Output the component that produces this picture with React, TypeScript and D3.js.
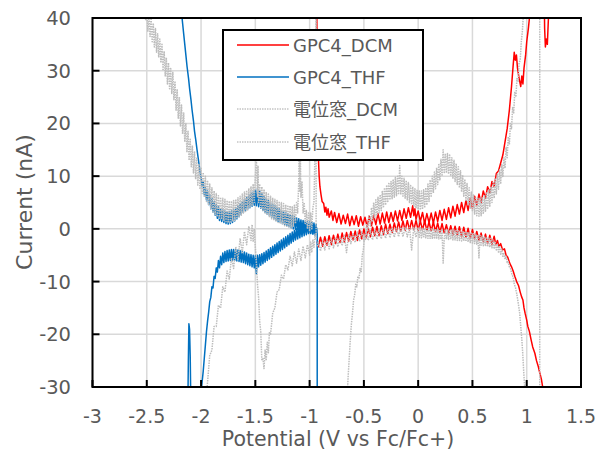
import React from 'react';
import * as d3 from 'd3';

type P = [number, number];

const X_TICKS = [-3, -2.5, -2, -1.5, -1, -0.5, 0, 0.5, 1, 1.5];
const Y_TICKS = [-30, -20, -10, 0, 10, 20, 30, 40];
const SERIES_NAMES = ['GPC4_DCM', 'GPC4_THF', '電位窓_DCM', '電位窓_THF'];
const X_TITLE = 'Potential (V vs Fc/Fc+)';
const Y_TITLE = 'Current (nA)';

// GPC4_DCM (red)
const GPC4_DCM_FWD: P[] = [[-0.935,45],[-0.93,30],[-0.925,20],[-0.92,14],[-0.912,10],[-0.905,8],[-0.895,6.5],[-0.885,5.2],[-0.87,4.8],[-0.86,3.2],[-0.85,4.1],[-0.84,2.6],[-0.83,3.8],[-0.82,2.2],[-0.8,3.4],[-0.785,1.6],[-0.77,3.1],[-0.75,1.2],[-0.73,2.9],[-0.71,0.9],[-0.69,2.6],[-0.67,1.0],[-0.65,2.8],[-0.63,0.6],[-0.61,2.4],[-0.59,0.8],[-0.57,2.5],[-0.55,0.5],[-0.53,2.3],[-0.51,0.7],[-0.49,2.2],[-0.47,0.4],[-0.45,2.4],[-0.43,0.6],[-0.41,2.6],[-0.39,0.8],[-0.37,2.9],[-0.35,0.9],[-0.33,3.0],[-0.31,1.1],[-0.29,3.2],[-0.27,1.2],[-0.25,3.1],[-0.23,1.4],[-0.21,3.4],[-0.19,1.5],[-0.17,3.5],[-0.15,1.6],[-0.13,3.8],[-0.11,2.0],[-0.09,4.0],[-0.07,2.2],[-0.05,4.4],[-0.04,2.5],[-0.03,3.8],[-0.02,1.8],[0.0,3.4],[0.02,1.4],[0.04,3.1],[0.06,1.0],[0.08,2.9],[0.1,1.2],[0.12,3.0],[0.14,1.1],[0.16,3.2],[0.18,1.4],[0.2,3.5],[0.22,1.6],[0.24,3.7],[0.26,1.8],[0.28,4.0],[0.3,2.1],[0.32,4.3],[0.34,2.4],[0.36,4.6],[0.38,2.8],[0.4,5.0],[0.42,3.1],[0.44,5.4],[0.46,3.5],[0.48,5.8],[0.5,3.9],[0.52,6.2],[0.54,4.4],[0.56,6.6],[0.58,5.0],[0.6,7.2],[0.62,5.8],[0.64,8.0],[0.66,6.8],[0.68,9.0],[0.7,8.0],[0.72,10.5],[0.74,11.0],[0.76,12.5],[0.78,14.0],[0.8,16.5],[0.82,19.0],[0.84,22.5],[0.86,27.0],[0.875,31.0],[0.885,33.5],[0.895,32.0],[0.905,33.0],[0.915,30.5],[0.93,28.5],[0.945,27.0],[0.955,29.0],[0.965,27.5],[0.975,30.5],[0.99,33.0],[1.0,35.5],[1.015,38.0],[1.03,41.0],[1.05,46]];
const GPC4_DCM_SPIKE: P[] = [[1.16,46],[1.165,38],[1.172,34.5],[1.18,36],[1.19,35],[1.2,40],[1.21,46]];
const GPC4_DCM_REV: P[] = [[1.2,-45],[1.16,-32],[1.147,-30],[1.135,-28.5],[1.12,-27.3],[1.105,-26],[1.09,-25],[1.075,-23.6],[1.055,-22.4],[1.04,-21],[1.025,-19.5],[1.01,-18.5],[1.0,-17.3],[0.985,-16],[0.975,-15],[0.965,-13.5],[0.953,-12.9],[0.94,-12],[0.925,-10.8],[0.907,-10],[0.89,-9],[0.875,-8],[0.86,-7.2],[0.843,-6.5],[0.825,-5.4],[0.81,-5.0],[0.795,-3.8],[0.778,-4.0],[0.76,-2.8],[0.745,-3.4],[0.73,-2.2],[0.715,-3.0],[0.7,-1.4],[0.68,-3.0],[0.66,-1.2],[0.64,-2.8],[0.62,-1.0],[0.60,-2.5],[0.58,-0.8],[0.56,-2.2],[0.54,-0.5],[0.52,-1.9],[0.50,-0.1],[0.48,-1.8],[0.46,0.1],[0.44,-1.6],[0.42,0.3],[0.40,-1.5],[0.38,0.4],[0.36,-1.3],[0.34,0.5],[0.32,-1.2],[0.30,0.6],[0.28,-1.0],[0.26,0.8],[0.24,-0.8],[0.22,1.0],[0.20,-0.7],[0.18,1.1],[0.16,-0.5],[0.14,1.3],[0.12,-0.4],[0.10,1.3],[0.08,-0.3],[0.06,1.5],[0.04,-0.2],[0.02,1.5],[0.0,-0.3],[-0.02,1.6],[-0.04,-0.2],[-0.06,1.6],[-0.08,-0.2],[-0.10,1.6],[-0.12,-0.3],[-0.14,1.5],[-0.16,-0.4],[-0.18,1.3],[-0.20,-0.5],[-0.22,1.1],[-0.24,-0.7],[-0.26,0.9],[-0.28,-0.9],[-0.30,0.9],[-0.32,-1.1],[-0.34,0.6],[-0.36,-1.3],[-0.38,0.5],[-0.40,-1.3],[-0.42,0.3],[-0.44,-1.5],[-0.46,0.1],[-0.48,-1.7],[-0.50,0.0],[-0.52,-1.9],[-0.54,-0.2],[-0.56,-2.2],[-0.58,-0.4],[-0.60,-2.1],[-0.62,-0.5],[-0.64,-2.3],[-0.66,-0.7],[-0.68,-2.5],[-0.70,-0.8],[-0.72,-2.6],[-0.74,-1.0],[-0.76,-2.8],[-0.78,-1.2],[-0.80,-3.0],[-0.82,-1.3],[-0.84,-3.1],[-0.86,-1.5],[-0.88,-3.3],[-0.90,-1.6],[-0.92,-3.4],[-0.93,-2.4]];

// GPC4_THF (blue)
const GPC4_THF_FWD: P[] = [[-2.185,45],[-2.175,40],[-2.16,37],[-2.15,35],[-2.14,33],[-2.129,30.8],[-2.115,28.5],[-2.105,26.5],[-2.093,24.5],[-2.083,22.6],[-2.07,20.5],[-2.06,18.5],[-2.048,16.8],[-2.037,15],[-2.027,13.5],[-2.018,12.2],[-2.009,10.6],[-2.0,9.8],[-1.99,8.0],[-1.98,9.0],[-1.97,6.5],[-1.96,7.8],[-1.95,5.5],[-1.94,7.2],[-1.93,4.6],[-1.92,6.4],[-1.91,3.8],[-1.9,5.8],[-1.89,3.2],[-1.88,5.2],[-1.87,2.6],[-1.86,4.6],[-1.85,2.0],[-1.84,4.2],[-1.83,1.6],[-1.82,3.8],[-1.81,1.4],[-1.8,3.6],[-1.79,1.2],[-1.78,3.4],[-1.77,1.0],[-1.76,3.3],[-1.75,0.9],[-1.74,3.3],[-1.73,1.0],[-1.72,3.4],[-1.71,1.2],[-1.7,3.6],[-1.69,1.5],[-1.68,4.0],[-1.67,1.9],[-1.66,4.4],[-1.65,2.3],[-1.64,4.8],[-1.63,2.7],[-1.62,5.2],[-1.61,3.1],[-1.6,5.6],[-1.59,3.5],[-1.58,6.0],[-1.57,3.8],[-1.56,6.4],[-1.55,4.0],[-1.54,6.8],[-1.53,4.3],[-1.52,7.0],[-1.51,4.5],[-1.5,7.3],[-1.49,4.4],[-1.48,7.6],[-1.47,4.2],[-1.46,7.2],[-1.45,3.9],[-1.44,6.8],[-1.43,3.5],[-1.42,6.2],[-1.41,3.1],[-1.4,5.8],[-1.39,2.8],[-1.38,5.4],[-1.37,2.5],[-1.36,5.0],[-1.35,2.2],[-1.34,4.7],[-1.33,1.9],[-1.32,4.4],[-1.31,1.6],[-1.3,4.1],[-1.29,1.4],[-1.28,3.8],[-1.27,1.2],[-1.26,3.5],[-1.25,1.0],[-1.24,3.3],[-1.23,0.8],[-1.22,3.1],[-1.21,0.6],[-1.2,2.9],[-1.19,0.4],[-1.18,2.7],[-1.17,0.2],[-1.16,2.5],[-1.15,0.0],[-1.14,2.3],[-1.13,-0.1],[-1.12,2.1],[-1.11,-0.2],[-1.1,1.9],[-1.09,-0.3],[-1.08,1.7],[-1.07,-0.4],[-1.06,1.6],[-1.05,-0.5],[-1.04,1.5],[-1.03,-0.6],[-1.02,1.4],[-1.01,-0.7],[-1.0,1.3],[-0.99,-0.8],[-0.98,1.2],[-0.97,-0.9],[-0.96,1.1],[-0.95,-1.0],[-0.94,0.8],[-0.935,-0.5]];
const GPC4_THF_REV: P[] = [[-0.93,-40],[-0.93,-1.0],[-0.94,0.6],[-0.95,-1.2],[-0.96,0.8],[-0.97,-1.0],[-0.98,1.0],[-0.99,-0.9],[-1.0,1.1],[-1.01,-0.9],[-1.02,1.0],[-1.03,-1.1],[-1.04,0.8],[-1.05,-1.3],[-1.06,0.6],[-1.07,-1.5],[-1.08,0.4],[-1.09,-1.7],[-1.1,0.2],[-1.11,-1.9],[-1.12,0.0],[-1.13,-2.1],[-1.14,-0.3],[-1.15,-2.4],[-1.16,-0.6],[-1.17,-2.7],[-1.18,-0.9],[-1.19,-3.0],[-1.2,-1.2],[-1.21,-3.3],[-1.22,-1.5],[-1.23,-3.6],[-1.24,-1.8],[-1.25,-3.9],[-1.26,-2.1],[-1.27,-4.2],[-1.28,-2.4],[-1.29,-4.5],[-1.3,-2.7],[-1.31,-4.8],[-1.32,-3.0],[-1.33,-5.1],[-1.34,-3.3],[-1.35,-5.4],[-1.36,-3.6],[-1.37,-5.7],[-1.38,-3.9],[-1.39,-6.0],[-1.4,-4.2],[-1.41,-6.3],[-1.42,-4.5],[-1.43,-6.6],[-1.44,-4.7],[-1.45,-6.9],[-1.46,-4.9],[-1.47,-7.2],[-1.48,-5.0],[-1.49,-8.5],[-1.5,-5.1],[-1.51,-7.4],[-1.52,-5.0],[-1.53,-7.2],[-1.54,-4.9],[-1.55,-7.0],[-1.56,-4.8],[-1.57,-6.8],[-1.58,-4.6],[-1.59,-6.6],[-1.6,-4.4],[-1.61,-6.4],[-1.62,-4.2],[-1.63,-6.3],[-1.64,-4.1],[-1.65,-6.2],[-1.66,-4.0],[-1.67,-6.1],[-1.68,-3.9],[-1.69,-6.0],[-1.7,-3.9],[-1.71,-6.0],[-1.72,-3.9],[-1.73,-6.0],[-1.74,-4.0],[-1.75,-6.1],[-1.76,-4.1],[-1.77,-6.2],[-1.78,-4.3],[-1.79,-6.4],[-1.8,-4.6],[-1.81,-6.8],[-1.82,-5.2],[-1.83,-7.4],[-1.84,-6.0],[-1.85,-8.2],[-1.86,-7.4],[-1.87,-9.4],[-1.88,-9.0],[-1.89,-11.2],[-1.9,-11.0],[-1.91,-13.0],[-1.92,-13.8],[-1.93,-15.8],[-1.94,-17.5],[-1.95,-19.5],[-1.96,-22],[-1.97,-24.5],[-1.98,-27],[-1.99,-29],[-2.0,-31],[-2.01,-36]];
const GPC4_THF_SPIKE: P[] = [[-2.125,-40],[-2.117,-25],[-2.112,-18],[-2.106,-19],[-2.1,-24],[-2.09,-40]];

// 電位窓_DCM (grey)
const WIN_DCM_FWD: P[] = [[-0.665,-40],[-0.655,-32],[-0.645,-28],[-0.635,-24.5],[-0.625,-21],[-0.615,-18],[-0.605,-16],[-0.595,-13.5],[-0.585,-12.5],[-0.575,-10.5],[-0.565,-11],[-0.555,-9],[-0.545,-9.5],[-0.535,-7.5],[-0.525,-8.3],[-0.515,-5],[-0.505,-4],[-0.495,-1.5],[-0.485,-2],[-0.475,1],[-0.465,-0.5],[-0.455,2.5],[-0.44,0.5],[-0.43,4],[-0.42,1.5],[-0.41,5],[-0.40,2],[-0.39,5.5],[-0.38,2.5],[-0.37,6],[-0.36,3],[-0.35,6.5],[-0.34,3.5],[-0.33,7.2],[-0.32,4],[-0.31,7.8],[-0.30,4.5],[-0.29,8.3],[-0.28,5],[-0.27,8.8],[-0.26,5.5],[-0.25,9],[-0.24,5.7],[-0.23,9.4],[-0.22,6],[-0.21,9.8],[-0.20,6.3],[-0.19,10],[-0.18,6.5],[-0.17,12],[-0.16,6.5],[-0.15,10],[-0.14,6.2],[-0.13,9.6],[-0.12,5.8],[-0.11,9.2],[-0.10,5.5],[-0.09,8.8],[-0.08,5],[-0.07,8.4],[-0.06,4.6],[-0.05,8],[-0.04,4.2],[-0.03,7.6],[-0.02,3.9],[-0.01,7.3],[0.0,3.7],[0.01,7.2],[0.02,3.6],[0.03,7.2],[0.04,3.7],[0.05,7.4],[0.06,4],[0.07,7.8],[0.08,4.5],[0.09,8.5],[0.10,5.2],[0.11,9.3],[0.12,6],[0.13,10],[0.14,6.8],[0.15,10.8],[0.16,7.6],[0.17,11.6],[0.18,8.4],[0.19,12.4],[0.20,9.2],[0.21,13.2],[0.22,10],[0.23,15],[0.24,10.5],[0.25,14.3],[0.26,10.6],[0.27,14.3],[0.28,10.4],[0.29,14],[0.30,10],[0.31,13.5],[0.32,9.5],[0.33,13],[0.34,9],[0.35,12.4],[0.36,8.4],[0.37,11.8],[0.38,7.8],[0.39,11],[0.40,7],[0.41,10.2],[0.42,6.2],[0.43,9.4],[0.44,5.4],[0.45,8.6],[0.46,4.6],[0.47,7.8],[0.48,3.9],[0.49,7],[0.50,3.3],[0.51,6.4],[0.52,2.8],[0.53,6],[0.54,2.5],[0.55,5.8],[0.56,2.4],[0.57,5.8],[0.58,2.5],[0.59,6],[0.60,2.8],[0.61,6.3],[0.62,3.2],[0.63,6.8],[0.64,3.7],[0.65,7.4],[0.66,4.3],[0.67,8],[0.68,5],[0.69,8.8],[0.70,5.8],[0.71,9.6],[0.72,6.6],[0.73,10.4],[0.74,7.5],[0.75,11.2],[0.76,8.5],[0.77,12.2],[0.78,9.8],[0.79,13.5],[0.80,11.5],[0.81,15.5],[0.82,13.5],[0.83,17.5],[0.84,16],[0.85,20],[0.86,19],[0.87,23],[0.88,22],[0.89,26],[0.90,25],[0.91,28.5],[0.92,28],[0.93,31.5],[0.94,32],[0.95,35.5],[0.96,37.5],[0.97,41],[0.98,46],[1.12,60],[1.12,-60]];
const WIN_DCM_REV: P[] = [[1.12,-60],[1.05,-45],[0.995,-33],[0.981,-30],[0.972,-27],[0.963,-23.5],[0.955,-21],[0.945,-18.5],[0.935,-16],[0.925,-14.5],[0.915,-13.2],[0.907,-12.2],[0.895,-11],[0.885,-10.5],[0.875,-9.2],[0.861,-8.4],[0.85,-7.5],[0.84,-7.2],[0.83,-6.2],[0.82,-6.4],[0.81,-5.2],[0.8,-5.8],[0.79,-4.5],[0.78,-5.2],[0.77,-3.8],[0.76,-4.8],[0.75,-3.2],[0.74,-4.4],[0.73,-2.8],[0.72,-4.0],[0.71,-2.4],[0.70,-3.8],[0.69,-2.1],[0.68,-3.6],[0.67,-1.8],[0.66,-3.5],[0.65,-1.6],[0.64,-3.4],[0.63,-1.5],[0.62,-3.3],[0.61,-1.4],[0.60,-3.2],[0.59,-1.3],[0.58,-3.1],[0.57,-1.2],[0.56,-5.5],[0.55,-1.1],[0.54,-2.9],[0.53,-1.0],[0.52,-2.8],[0.51,-0.9],[0.50,-2.7],[0.49,-0.8],[0.48,-2.6],[0.47,-0.7],[0.46,-2.5],[0.45,-0.6],[0.44,-2.4],[0.43,-0.5],[0.42,-2.3],[0.41,-0.5],[0.40,-2.3],[0.39,-0.4],[0.38,-2.2],[0.37,-0.3],[0.36,-2.2],[0.35,-0.3],[0.34,-2.1],[0.33,-0.2],[0.32,-2.1],[0.31,-0.2],[0.30,-2.0],[0.29,-0.2],[0.28,-2.0],[0.27,-0.1],[0.26,-2.0],[0.25,-0.1],[0.24,-2.0],[0.23,-6.5],[0.22,-0.1],[0.21,-2.0],[0.20,-0.1],[0.19,-1.9],[0.18,0],[0.17,-1.9],[0.16,0],[0.15,-1.9],[0.14,0],[0.13,-1.8],[0.12,0],[0.11,-1.8],[0.10,0.1],[0.09,-1.8],[0.08,0.1],[0.07,-1.7],[0.06,0.1],[0.05,-1.7],[0.04,0.1],[0.03,-1.7],[0.02,0.2],[0.01,-1.6],[0.0,0.2],[-0.02,-1.6],[-0.04,0.3],[-0.06,-4.0],[-0.08,0.3],[-0.10,-1.5],[-0.12,0.3],[-0.14,-1.5],[-0.16,0.3],[-0.18,-1.5],[-0.20,0.3],[-0.22,-1.6],[-0.24,0.2],[-0.26,-1.7],[-0.28,0.1],[-0.30,-1.8],[-0.32,0.0],[-0.34,-1.9],[-0.36,-0.1],[-0.38,-2.0],[-0.40,-0.2],[-0.42,-2.1],[-0.44,-0.3],[-0.46,-2.2],[-0.48,-0.4],[-0.50,-2.3],[-0.52,-0.5],[-0.54,-2.4],[-0.56,-0.6],[-0.58,-2.6],[-0.60,-0.8],[-0.62,-2.8],[-0.64,-1.0],[-0.66,-4.5],[-0.68,-1.2],[-0.70,-3.2],[-0.72,-1.4],[-0.74,-3.4],[-0.76,-1.6],[-0.78,-3.6],[-0.80,-1.8],[-0.82,-3.8],[-0.84,-2.0],[-0.86,-4.0],[-0.88,-2.2],[-0.90,-4.2],[-0.92,-2.4],[-0.93,-3.5]];

// 電位窓_THF (grey)
const WIN_THF_FWD: P[] = [[-2.53,46],[-2.52,44],[-2.51,39.5],[-2.5,42],[-2.49,37.5],[-2.48,41],[-2.47,36.5],[-2.46,40],[-2.45,35.5],[-2.44,39],[-2.43,34.5],[-2.42,38],[-2.41,33.5],[-2.40,37],[-2.39,32.5],[-2.38,36],[-2.37,31.5],[-2.36,35],[-2.35,30],[-2.34,33.7],[-2.33,29],[-2.32,32.5],[-2.31,27.5],[-2.30,31.5],[-2.29,26.6],[-2.28,30.6],[-2.27,25.7],[-2.26,29.7],[-2.25,24.5],[-2.24,28],[-2.23,22.5],[-2.22,26.5],[-2.21,21],[-2.20,25],[-2.19,19.5],[-2.18,23.5],[-2.17,18],[-2.16,22],[-2.15,16.5],[-2.14,20],[-2.13,14.5],[-2.12,18.5],[-2.11,13],[-2.10,17],[-2.09,11.8],[-2.08,15.8],[-2.07,10.6],[-2.06,14.6],[-2.05,9.4],[-2.04,13.4],[-2.03,8.3],[-2.02,12.3],[-2.01,7.5],[-2.00,11.5],[-1.99,6.7],[-1.98,10.7],[-1.97,6],[-1.96,10],[-1.95,5.2],[-1.94,9.2],[-1.93,4.5],[-1.92,8.5],[-1.91,3.8],[-1.90,7.8],[-1.89,3.2],[-1.88,7.2],[-1.87,2.7],[-1.86,6.7],[-1.85,2.3],[-1.84,6.3],[-1.83,2],[-1.82,6],[-1.81,1.8],[-1.80,5.8],[-1.79,1.6],[-1.78,5.6],[-1.77,1.4],[-1.76,5.4],[-1.75,1.3],[-1.74,5.3],[-1.73,1.3],[-1.72,5.3],[-1.71,1.4],[-1.70,5.4],[-1.69,1.6],[-1.68,5.6],[-1.67,1.9],[-1.66,5.9],[-1.65,2.2],[-1.64,6.2],[-1.63,2.6],[-1.62,6.6],[-1.61,3],[-1.60,7],[-1.59,3.3],[-1.58,7.3],[-1.57,3.6],[-1.56,7.6],[-1.55,4],[-1.54,8],[-1.53,4.5],[-1.52,8.5],[-1.51,5],[-1.50,10],[-1.49,13],[-1.48,6],[-1.475,12],[-1.47,5],[-1.46,8.5],[-1.45,4],[-1.44,8],[-1.43,3.5],[-1.42,7.5],[-1.41,3],[-1.40,7],[-1.39,2.6],[-1.38,6.6],[-1.37,2.2],[-1.36,6.2],[-1.35,1.9],[-1.34,5.9],[-1.33,1.6],[-1.32,5.6],[-1.31,1.4],[-1.30,5.4],[-1.29,1.2],[-1.28,5.2],[-1.27,1],[-1.26,5],[-1.25,0.8],[-1.24,4.8],[-1.23,0.6],[-1.22,4.6],[-1.21,0.5],[-1.20,4.5],[-1.19,0.4],[-1.18,4.4],[-1.17,0.3],[-1.16,4.3],[-1.15,0.5],[-1.14,4.5],[-1.13,1],[-1.12,5],[-1.11,3],[-1.10,9],[-1.095,16],[-1.09,7],[-1.085,14],[-1.08,6],[-1.07,9],[-1.06,3],[-1.05,5],[-1.04,1],[-1.03,3.5],[-1.02,0],[-1.01,3],[-1.0,-0.5],[-0.99,3],[-0.98,0],[-0.97,4],[-0.96,5],[-0.955,10],[-0.95,16],[-0.945,28],[-0.94,46],[-0.94,-2]];
const WIN_THF_REV: P[] = [[-0.94,-2],[-0.95,-1],[-0.96,-3.5],[-0.97,-2],[-0.98,-4.5],[-0.99,-2.5],[-1.0,-5],[-1.02,-3],[-1.04,-5.5],[-1.06,-3.3],[-1.08,-6],[-1.1,-3.8],[-1.12,-6.5],[-1.14,-4.4],[-1.16,-7],[-1.18,-5.2],[-1.2,-7.8],[-1.22,-6.8],[-1.24,-9.5],[-1.26,-8.8],[-1.28,-11.5],[-1.3,-12],[-1.32,-15],[-1.34,-16],[-1.36,-20],[-1.37,-19.5],[-1.38,-23.5],[-1.39,-21.5],[-1.4,-25],[-1.41,-23],[-1.42,-26.5],[-1.43,-24.5],[-1.44,-25],[-1.45,-19.5],[-1.46,-17.5],[-1.47,-13],[-1.48,-10.5],[-1.49,-6.5],[-1.5,-3.5],[-1.51,0],[-1.52,-2.5],[-1.53,0.8],[-1.54,-2.2],[-1.56,0.5],[-1.58,-3.0],[-1.6,-0.5],[-1.62,-4.5],[-1.64,-1.8],[-1.66,-5.8],[-1.68,-3.4],[-1.7,-7.5],[-1.72,-5.5],[-1.74,-9.5],[-1.76,-8],[-1.78,-12],[-1.8,-11],[-1.82,-15],[-1.84,-14.5],[-1.86,-18.5],[-1.88,-18.5],[-1.9,-23],[-1.92,-24],[-1.94,-29],[-1.96,-34]];

const RED = '#ff0000';
const BLUE = '#0070c0';
const GREY = '#bdbdbd';
const TEXT = '#595959';
const FONT = '"DejaVu Sans", "Noto Sans CJK JP", sans-serif';

export default function App() {
  const W = 598, H = 452;
  const L = 92.5, R = 581, T = 18, B = 387;
  const x = d3.scaleLinear().domain([-3, 1.5]).range([L, R]);
  const y = d3.scaleLinear().domain([-30, 40]).range([B, T]);
  const line = d3.line<P>().x(d => x(d[0])).y(d => y(d[1]));

  const redPaths = [GPC4_DCM_FWD, GPC4_DCM_SPIKE, GPC4_DCM_REV];
  const bluePaths = [GPC4_THF_FWD, GPC4_THF_REV, GPC4_THF_SPIKE];
  const greyPaths = [WIN_DCM_FWD, WIN_DCM_REV, WIN_THF_FWD, WIN_THF_REV];

  const legendRows = [
    { name: SERIES_NAMES[0], color: RED, dash: undefined as string | undefined, w: 1.5 },
    { name: SERIES_NAMES[1], color: BLUE, dash: undefined, w: 1.5 },
    { name: SERIES_NAMES[2], color: '#a6a6a6', dash: '1.5 1', w: 1 },
    { name: SERIES_NAMES[3], color: '#a6a6a6', dash: '1.5 1', w: 1 },
  ];
  const legY = [45, 77, 109, 142];

  return (
    <svg width={W} height={H} style={{ position: 'absolute', left: 0, top: 0, background: '#fff' }} fontFamily={FONT}>
      <defs>
        <clipPath id="plot">
          <rect x={L} y={T} width={R - L} height={B - T} />
        </clipPath>
      </defs>
      <rect x={0} y={0} width={W} height={H} fill="#fff" />
      {X_TICKS.map(t => (
        <line key={'gx' + t} x1={x(t)} x2={x(t)} y1={T} y2={B} stroke="#d9d9d9" strokeWidth={1.5} />
      ))}
      {Y_TICKS.map(t => (
        <line key={'gy' + t} x1={L} x2={R} y1={y(t)} y2={y(t)} stroke="#d9d9d9" strokeWidth={1.5} />
      ))}
      <g clipPath="url(#plot)" fill="none" strokeLinejoin="round">
        {redPaths.map((d, i) => (
          <path key={'r' + i} d={line(d) || ''} stroke={RED} strokeWidth={1.5} />
        ))}
        {bluePaths.map((d, i) => (
          <path key={'b' + i} d={line(d) || ''} stroke={BLUE} strokeWidth={1.5} />
        ))}
        {greyPaths.map((d, i) => (
          <path key={'g' + i} d={line(d) || ''} stroke={GREY} strokeWidth={1.5} strokeDasharray="1.5 1" />
        ))}
      </g>
      <rect x={L} y={T} width={R - L} height={B - T} fill="none" stroke="#000" strokeWidth={2} />
      {X_TICKS.map(t => (
        <line key={'tx' + t} x1={x(t)} x2={x(t)} y1={B} y2={B - 7} stroke="#000" strokeWidth={2} />
      ))}
      {Y_TICKS.map(t => (
        <line key={'ty' + t} x1={L} x2={L + 7} y1={y(t)} y2={y(t)} stroke="#000" strokeWidth={2} />
      ))}
      {X_TICKS.map(t => (
        <text key={'lx' + t} x={x(t)} y={423} textAnchor="middle" fontSize={19} fill={TEXT}>{String(t)}</text>
      ))}
      {Y_TICKS.map(t => (
        <text key={'ly' + t} x={71} y={y(t) + 7} textAnchor="end" fontSize={19.5} fill={TEXT}>{String(t)}</text>
      ))}
      <text x={338} y={446} textAnchor="middle" fontSize={20.5} fill={TEXT}>{X_TITLE}</text>
      <text transform={`translate(32,202) rotate(-90)`} textAnchor="middle" fontSize={22} fill={TEXT}>{Y_TITLE}</text>
      <rect x={223} y={30} width={200} height={130} fill="#fff" stroke="#000" strokeWidth={2} />
      {legendRows.map((r, i) => (
        <g key={'leg' + i}>
          <line x1={237} x2={289} y1={legY[i]} y2={legY[i]} stroke={r.color} strokeWidth={r.w} strokeDasharray={r.dash} />
          <text x={293} y={legY[i] + 7} fontSize={18} fill={TEXT}>{r.name}</text>
        </g>
      ))}
    </svg>
  );
}
